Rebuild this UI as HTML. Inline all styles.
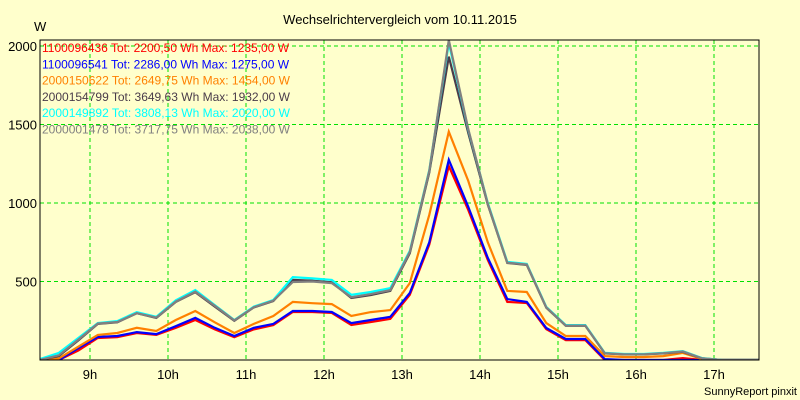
<!DOCTYPE html>
<html><head><meta charset="utf-8"><style>
body{margin:0;background:#ffffcc;}
svg{display:block;font-family:"Liberation Sans",sans-serif;}
</style></head><body>
<svg id="chart" width="800" height="400" viewBox="0 0 800 400">
<rect x="0" y="0" width="800" height="400" fill="#ffffcc"/>
<text x="400" y="24" text-anchor="middle" font-size="13">Wechselrichtervergleich vom 10.11.2015</text>
<text x="34" y="31" font-size="13">W</text>
<text x="797" y="395" text-anchor="end" font-size="11">SunnyReport pinxit</text>
<g id="grid"></g><g id="axes"></g><g id="series"></g><g id="legend"></g>
<rect x="40" y="40" width="719" height="320" fill="none" stroke="#000" stroke-width="1"/>
</svg>
<script>
const startHour = 8.35, stepHour = 0.25;
const xTicks = [9,10,11,12,13,14,15,16,17];
const xTickLabels = ["9h","10h","11h","12h","13h","14h","15h","16h","17h"];
const yTicks = [500,1000,1500,2000];
const yTickLabels = ["500","1000","1500","2000"];
const seriesNames = ["1100096436","1100096541","2000150622","2000154799","2000149892","2000001478"];
const seriesColors = ["#ff0000","#0000ff","#ff8000","#4a3c4a","#00ffff","#808080"];
const legendTexts = [
"1100096436 Tot: 2200,50 Wh Max: 1235,00 W",
"1100096541 Tot: 2286,00 Wh Max: 1275,00 W",
"2000150622 Tot: 2649,75 Wh Max: 1454,00 W",
"2000154799 Tot: 3649,63 Wh Max: 1932,00 W",
"2000149892 Tot: 3808,13 Wh Max: 2020,00 W",
"2000001478 Tot: 3717,75 Wh Max: 2038,00 W"];
const sRed    = [0,0,60,140,145,172,160,205,255,195,145,195,222,306,306,300,223,242,262,415,735,1235,955,637,370,363,197,127,127,0,0,0,0,12,0,0,0,0];
const sBlue   = [0,0,75,147,153,178,165,215,268,205,153,205,230,312,312,306,235,255,275,427,750,1275,975,650,388,370,204,134,134,6,0,0,0,0,0,0,0,0];
const sOrange = [0,10,85,160,172,205,185,255,312,240,172,230,280,370,362,356,280,305,318,490,925,1454,1140,750,440,433,235,153,153,25,19,19,25,45,6,0,0,0];
const sDark   = [0,25,125,230,240,298,268,370,432,340,250,335,375,510,505,495,395,414,440,680,1195,1932,1445,990,618,606,333,218,218,42,36,36,42,52,10,0,0,0];
const sCyan   = [5,45,140,235,248,305,275,380,445,350,255,340,382,528,520,510,415,433,458,695,1210,2020,1465,1000,625,612,338,222,222,45,38,38,45,57,12,0,0,0];
const sGrey   = [0,30,130,232,242,298,270,372,435,345,252,336,378,497,500,490,400,420,445,688,1205,2038,1470,995,620,608,335,219,219,43,36,36,43,54,10,0,0,0];
const allSeries = [sRed,sBlue,sOrange,sDark,sCyan,sGrey];

const X0=40, X1=759, Y0=360, Y1=40;
const xOfHour = h => 12 + (h-8)*78;
const xOfIndex = i => xOfHour(startHour + i*stepHour);
const yOf = v => 360 - v*0.157;
const NS="http://www.w3.org/2000/svg";
function mk(tag, parent){const e=document.createElementNS(NS,tag);parent.appendChild(e);return e;}
const grid=document.getElementById('grid'), axes=document.getElementById('axes'), ser=document.getElementById('series'), leg=document.getElementById('legend');

xTicks.forEach((h,k)=>{
  const x=xOfHour(h);
  const l=mk('line',grid);
  
  
  l.setAttribute('x1',x);l.setAttribute('x2',x);l.setAttribute('y1',Y1);l.setAttribute('y2',Y0);
  l.setAttribute('stroke','#00e000');l.setAttribute('stroke-dasharray','4,3');
  const t=mk('text',axes);
  
  
  t.setAttribute('x',x);t.setAttribute('y',379);t.setAttribute('text-anchor','middle');t.setAttribute('font-size','13');
  t.textContent=xTickLabels[k];
});
yTicks.forEach((v,k)=>{
  const y=yOf(v);
  const l=mk('line',grid);
  
  
  l.setAttribute('x1',X0);l.setAttribute('x2',X1);l.setAttribute('y1',y);l.setAttribute('y2',y);
  l.setAttribute('stroke','#00e000');l.setAttribute('stroke-dasharray','4,3');
  const t=mk('text',axes);
  
  
  t.setAttribute('x',37);t.setAttribute('y',y+5);t.setAttribute('text-anchor','end');t.setAttribute('font-size','13');
  t.textContent=yTickLabels[k];
});
const cp=mk('clipPath',ser);cp.setAttribute('id','pc');
const cr=mk('rect',cp);cr.setAttribute('x',X0);cr.setAttribute('y',Y1-5);cr.setAttribute('width',X1-X0);cr.setAttribute('height',Y0-Y1+5);
allSeries.forEach((d,s)=>{
  const p=mk('polyline',ser);
  
  
  p.setAttribute('points',d.map((v,i)=>xOfIndex(i).toFixed(1)+','+yOf(v).toFixed(1)).join(' '));
  p.setAttribute('fill','none');p.setAttribute('stroke',seriesColors[s]);p.setAttribute('stroke-width','2.2');
  p.setAttribute('clip-path','url(#pc)');
});
legendTexts.forEach((txt,s)=>{
  const t=mk('text',leg);
  
  
  t.setAttribute('x',42);t.setAttribute('y',52+s*16.3);t.setAttribute('font-size','12');t.setAttribute('fill',seriesColors[s]);
  t.textContent=txt;
});
</script>
</body></html>
